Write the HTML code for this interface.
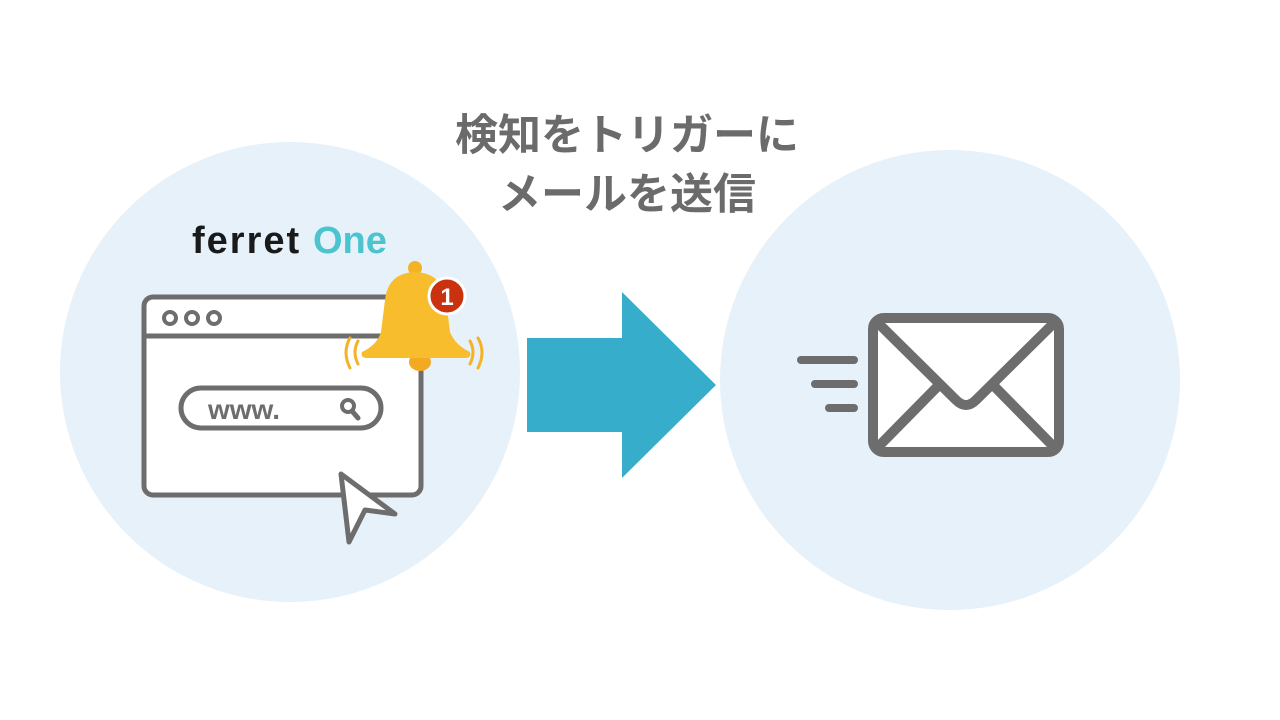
<!DOCTYPE html>
<html><head><meta charset="utf-8"><style>
html,body{margin:0;padding:0;background:#fff;}
body{width:1280px;height:720px;overflow:hidden;position:relative;}
.t{position:absolute;left:0;width:1254px;text-align:center;font-family:"Liberation Sans","Noto Sans CJK JP",sans-serif;font-weight:bold;font-size:43px;color:#6b6b6b;line-height:43px;}
</style></head><body>
<svg width="1280" height="720" style="position:absolute;left:0;top:0">
<circle cx="290" cy="372" r="230" fill="#e6f1f9"/>
<circle cx="950" cy="380" r="230" fill="#e6f1f9"/>
<polygon points="527,338 622,338 622,292 716,385 622,478 622,432 527,432" fill="#36aecb"/>
<!-- browser -->
<rect x="144" y="297" width="277" height="198" rx="9" fill="#fff" stroke="#6d6d6d" stroke-width="5"/>
<line x1="144" y1="336" x2="421" y2="336" stroke="#6d6d6d" stroke-width="5"/>
<circle cx="170" cy="318" r="6" fill="none" stroke="#6d6d6d" stroke-width="4"/>
<circle cx="192" cy="318" r="6" fill="none" stroke="#6d6d6d" stroke-width="4"/>
<circle cx="214" cy="318" r="6" fill="none" stroke="#6d6d6d" stroke-width="4"/>
<rect x="181" y="388" width="200" height="40" rx="20" fill="#fff" stroke="#6d6d6d" stroke-width="5"/>
<text x="208" y="419" font-family="Liberation Sans,sans-serif" font-weight="bold" font-size="28" fill="#6d6d6d">www.</text>
<circle cx="348" cy="406" r="6" fill="none" stroke="#6d6d6d" stroke-width="4"/>
<line x1="352" y1="411" x2="358" y2="418" stroke="#6d6d6d" stroke-width="5" stroke-linecap="round"/>
<polygon points="341,474 395,514 365,510 349,542" fill="#fff" stroke="#6d6d6d" stroke-width="5" stroke-linejoin="round"/>
<!-- logo -->
<text x="192" y="253" font-family="Liberation Sans,sans-serif" font-weight="bold" font-size="38" fill="#1a1a1a" letter-spacing="2">ferret</text>
<text x="313" y="253" font-family="Liberation Sans,sans-serif" font-weight="bold" font-size="38" fill="#4cc4cf">One</text>
<!-- bell -->
<circle cx="415" cy="268" r="7" fill="#f3b325"/>
<ellipse cx="420" cy="362" rx="11" ry="9" fill="#f3a922"/>
<path d="M385,300 Q388,273 415,272 Q442,273 446,300 L450,332 Q455,345 470,352 Q472,358 465,358 L367,358 Q360,358 362,352 Q377,345 381,332 Z" fill="#f7bd2d"/>
<path d="M350,338 Q342,352 350,368 M358,341 Q352,352 358,364" fill="none" stroke="#f3b325" stroke-width="3" stroke-linecap="round"/>
<path d="M478,338 Q486,352 478,368 M470,341 Q476,352 470,364" fill="none" stroke="#f3b325" stroke-width="3" stroke-linecap="round"/>
<circle cx="447" cy="296" r="18" fill="#c9310f" stroke="#fff" stroke-width="3"/>
<text x="447" y="305" text-anchor="middle" font-family="Liberation Sans,sans-serif" font-weight="bold" font-size="24" fill="#fff">1</text>
<!-- envelope -->
<rect x="873" y="318" width="186" height="134" rx="11" fill="#fff" stroke="#6d6d6d" stroke-width="10"/>
<path d="M878,323 L956,400 Q966,410 976,400 L1054,323" fill="none" stroke="#6d6d6d" stroke-width="10" stroke-linejoin="round"/>
<line x1="878" y1="447" x2="938" y2="386" stroke="#6d6d6d" stroke-width="10"/>
<line x1="1054" y1="447" x2="994" y2="386" stroke="#6d6d6d" stroke-width="10"/>
<g stroke="#6d6d6d" stroke-width="8" stroke-linecap="round">
<line x1="801" y1="360" x2="854" y2="360"/>
<line x1="815" y1="384" x2="854" y2="384"/>
<line x1="829" y1="408" x2="854" y2="408"/>
</g>
</svg>
<div class="t" style="top:115px">検知をトリガーに</div>
<div class="t" style="top:174px">メールを送信</div>
</body></html>
